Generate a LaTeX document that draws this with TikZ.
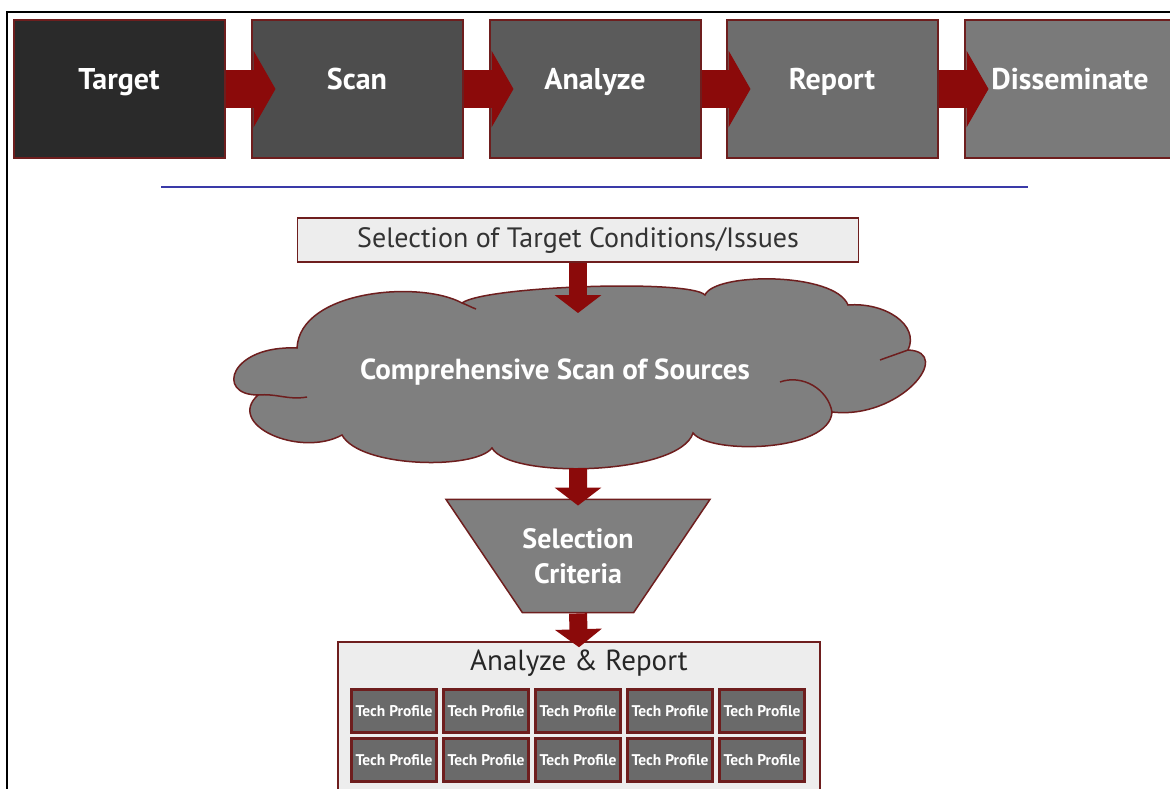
\documentclass[tikz,border=0pt]{standalone}
\usepackage{fontspec}
\setmainfont{PT Sans}
\usetikzlibrary{positioning}
\usetikzlibrary{shapes.geometric}
\usetikzlibrary{arrows.meta}
\definecolor{boxred}{HTML}{6E1E1E}
\definecolor{arrowred}{HTML}{8B0A0A}
\definecolor{panelgray}{HTML}{EDEDED}
\definecolor{ruleblue}{HTML}{3A3AA8}
\definecolor{stepA}{HTML}{2A2A2A}
\definecolor{stepB}{HTML}{4D4D4D}
\definecolor{stepC}{HTML}{5B5B5B}
\definecolor{stepD}{HTML}{6D6D6D}
\definecolor{stepE}{HTML}{7A7A7A}
\definecolor{midgray}{HTML}{7F7F7F}
\definecolor{profgray}{HTML}{6A6A6A}

\begin{document}
\begin{tikzpicture}[x=1pt,y=-1pt]
		\tikzset{
			stepbox/.style={draw=boxred,line width=2pt,minimum width=211pt,minimum height=138pt,text=white,font=\fontsize{30}{32}\selectfont\bfseries,text height=21pt,text depth=19pt},
			selbox/.style={draw=boxred,line width=1.5pt,fill=panelgray,minimum width=561pt,minimum height=44pt,text=black!80,font=\fontsize{28}{30}\selectfont},
			cloudfill/.style={fill=midgray,draw=boxred,line width=1.5pt},
			cloudline/.style={draw=boxred,line width=1.5pt},
			cloudtext/.style={text=white,font=\fontsize{29}{32}\selectfont\bfseries},
			critshape/.style={trapezium,shape border rotate=180,trapezium angle=56,inner xsep=0pt,inner ysep=29pt,align=center,fill=midgray,draw=boxred,line width=1.5pt,text=white,font=\fontsize{28}{35}\selectfont\bfseries},
			panel/.style={draw=boxred,line width=1.5pt,fill=panelgray,minimum width=482pt,minimum height=158pt},
			paneltitle/.style={text=black!85,font=\fontsize{29}{32}\selectfont},
			profile/.style={draw=boxred,line width=2.5pt,fill=profgray,minimum width=85pt,minimum height=43pt,inner sep=0pt,text=white,font=\fontsize{15.5}{17}\selectfont\bfseries},
		}
		\tikzset{
			fatarrow/.style={arrowred,line width=38pt,-{Triangle[length=22pt,width=76pt]}},
			downarrow/.style={arrowred,line width=18pt,-{Triangle[length=18pt,width=46pt]}},
		}
		\useasboundingbox (0,0) rectangle (1170,789);
		\clip (0,0) rectangle (1170,789);
		
		\draw[line width=2.5pt] (7,789) -- (7,12) -- (1170,12);
		
		% process steps
		\node[stepbox,fill=stepA] (tgt) at (119,89) {Target};
		\node[stepbox,fill=stepB] (scn) at (357,89) {Scan};
		\node[stepbox,fill=stepC] (anl) at (595,89) {Analyze};
		\node[stepbox,fill=stepD] (rpt) at (832,89) {Report};
		\node[stepbox,fill=stepE] (dsm) at (1070,89) {Disseminate};
		
		\draw[fatarrow] (tgt.east) to ([xshift=25pt]scn.west);
		\draw[fatarrow] (scn.east) to ([xshift=25pt]anl.west);
		\draw[fatarrow] (anl.east) to ([xshift=25pt]rpt.west);
		\draw[fatarrow] (rpt.east) to ([xshift=25pt]dsm.west);
		
		\draw[ruleblue,line width=2.5pt] (161,187) -- (1028,187);
		
		% scan detail
		\node[selbox] (sel) at (578,240) {Selection of Target Conditions/Issues};
		
		\path[cloudfill] (297,348) .. controls (300,290) and (420,280) .. (462,303)
			.. controls (485,286) and (690,279) .. (705,295)
			.. controls (715,272) and (835,272) .. (848,305)
			.. controls (885,302) and (920,325) .. (908,350)
			.. controls (955,352) and (900,420) .. (832,412)
			.. controls (830,452) and (710,455) .. (693,433)
			.. controls (680,475) and (510,480) .. (492,448)
			.. controls (475,470) and (360,468) .. (342,435)
			.. controls (300,458) and (225,425) .. (258,395)
			.. controls (215,395) and (230,345) .. cycle;
		\draw[cloudline] (258,395) to[out=5,in=190] (307,397);
		\draw[cloudline] (462,303) to[out=-20,in=160] (476,309);
		\draw[cloudline] (908,350) to[out=200,in=20] (880,360);
		\draw[cloudline] (832,412) to[out=100,in=20] (780,382);
		\coordinate (cloudtop) at (578,290);
		\coordinate (cloudbot) at (578,468);
		\node[cloudtext] (scantext) at (555,372) {Comprehensive Scan of Sources};
		
		\node[critshape] (crit) at (578,556) {Selection\\Criteria};
		
		\node[panel] (rep) at (579,721) {};
		\node[paneltitle] (reptitle) at (579,663) {Analyze \& Report};
		
		\node[profile] (tpA) at (394,711) {Tech Profile};
		\node[profile] (tpB) at (486,711) {Tech Profile};
		\node[profile] (tpC) at (578,711) {Tech Profile};
		\node[profile] (tpD) at (670,711) {Tech Profile};
		\node[profile] (tpE) at (762,711) {Tech Profile};
		\node[profile] (tpF) at (394,760) {Tech Profile};
		\node[profile] (tpG) at (486,760) {Tech Profile};
		\node[profile] (tpH) at (578,760) {Tech Profile};
		\node[profile] (tpI) at (670,760) {Tech Profile};
		\node[profile] (tpJ) at (762,760) {Tech Profile};
		
		\draw[downarrow] (sel.south) to ([yshift=-23pt]cloudtop);
		\draw[downarrow] (cloudbot) to ([yshift=-7pt]crit.north);
		\draw[downarrow] (crit.south) to ([yshift=-6pt]rep.north);
	\end{tikzpicture}
\end{document}
